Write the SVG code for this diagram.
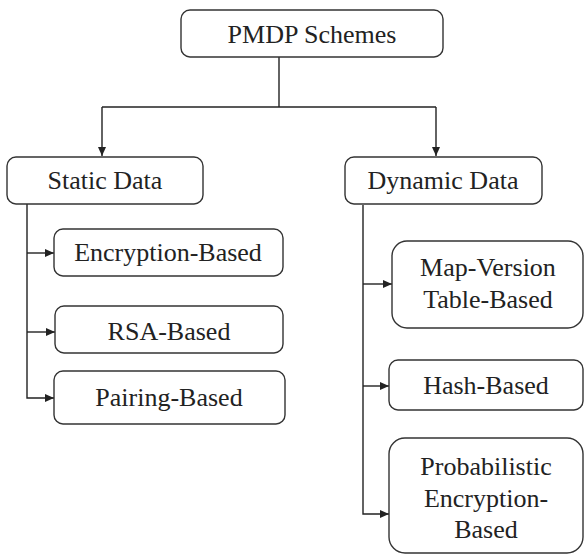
<svg xmlns="http://www.w3.org/2000/svg" width="585" height="555" viewBox="0 0 585 555">
<defs>
<marker id="ah" markerWidth="9" markerHeight="8" refX="9" refY="4" orient="auto" markerUnits="userSpaceOnUse">
<path d="M0,0 L9,4 L0,8 Z" fill="#222"/>
</marker>
<style>
.box{fill:#fff;stroke:#333;stroke-width:1.4}
.t{font-family:"Liberation Serif","Times New Roman",serif;font-size:26px;fill:#222;text-anchor:middle}
.c{fill:none;stroke:#222;stroke-width:1.4}
</style>
</defs>
<rect width="585" height="555" fill="#fff"/>
<g id="connectors">
<path class="c" d="M279 57 V107"/>
<path class="c" d="M102 107 H436"/>
<path class="c" d="M102 107 V156" marker-end="url(#ah)"/>
<path class="c" d="M436 107 V156" marker-end="url(#ah)"/>
<path class="c" d="M27 204 V398 H54" marker-end="url(#ah)"/>
<path class="c" d="M27 253 H54" marker-end="url(#ah)"/>
<path class="c" d="M27 332 H55" marker-end="url(#ah)"/>
<path class="c" d="M363 205 V514 H389" marker-end="url(#ah)"/>
<path class="c" d="M363 284 H392" marker-end="url(#ah)"/>
<path class="c" d="M363 386 H389" marker-end="url(#ah)"/>
</g>
<g id="pmdp">
<rect class="box" x="181" y="10" width="262" height="47" rx="9"/>
<text class="t" x="312" y="43">PMDP Schemes</text>
</g>
<g id="static">
<rect class="box" x="7" y="157" width="196" height="47" rx="9"/>
<text class="t" x="105" y="189">Static Data</text>
</g>
<g id="dynamic">
<rect class="box" x="345" y="157" width="197" height="47" rx="9"/>
<text class="t" x="443" y="189">Dynamic Data</text>
</g>
<g id="encryption">
<rect class="box" x="54" y="229" width="229" height="47" rx="9"/>
<text class="t" x="168" y="261">Encryption-Based</text>
</g>
<g id="rsa">
<rect class="box" x="55" y="306" width="228" height="47" rx="9"/>
<text class="t" x="169" y="340">RSA-Based</text>
</g>
<g id="pairing">
<rect class="box" x="54" y="371" width="231" height="53" rx="9"/>
<text class="t" x="169" y="406">Pairing-Based</text>
</g>
<g id="mapversion">
<rect class="box" x="392" y="241" width="191" height="87" rx="15"/>
<text class="t" x="488" y="276">Map-Version</text>
<text class="t" x="488" y="308">Table-Based</text>
</g>
<g id="hash">
<rect class="box" x="389" y="360" width="194" height="50" rx="9"/>
<text class="t" x="486" y="394">Hash-Based</text>
</g>
<g id="probabilistic">
<rect class="box" x="389" y="438" width="194" height="115" rx="16"/>
<text class="t" x="486" y="475">Probabilistic</text>
<text class="t" x="486" y="507">Encryption-</text>
<text class="t" x="486" y="538">Based</text>
</g>
</svg>
